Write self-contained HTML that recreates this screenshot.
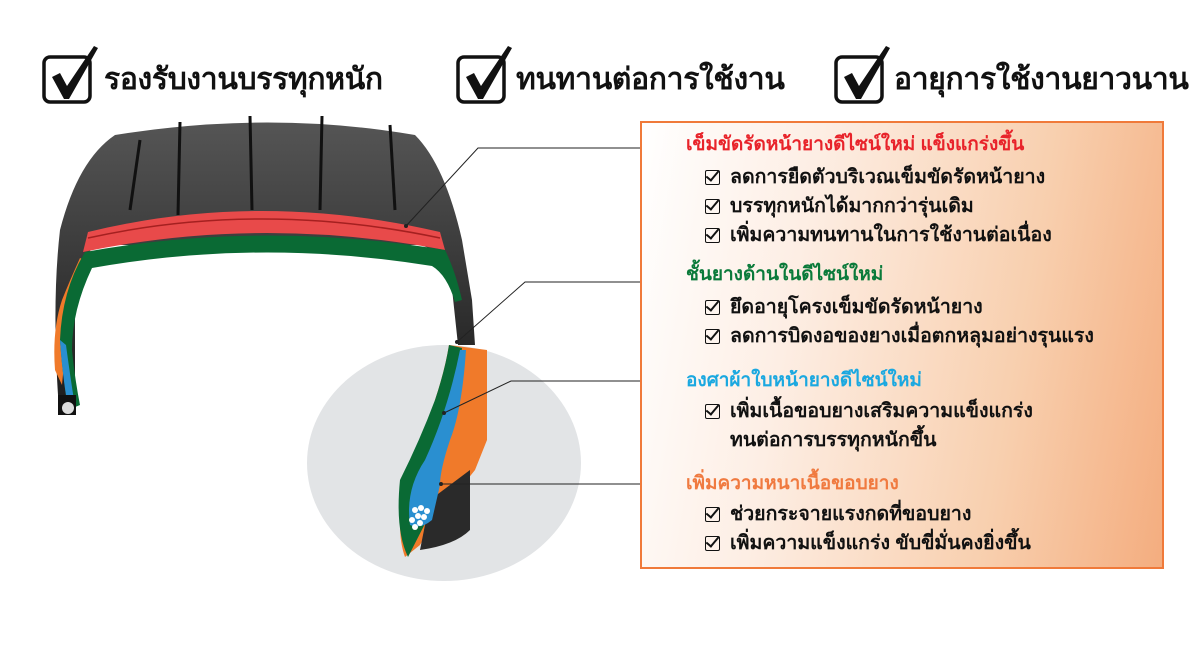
<!DOCTYPE html>
<html><head><meta charset="utf-8"><style>
body{margin:0;width:1200px;height:646px;background:#fff;position:relative;overflow:hidden;font-family:"Liberation Sans","DejaVu Sans",sans-serif;font-weight:bold}
.h{position:absolute;top:60px;font-size:30px;color:#111;white-space:nowrap;line-height:40px;letter-spacing:-0.3px}
#panel{position:absolute;left:640px;top:121px;width:520px;height:444px;border:2px solid #f07a3a;background:linear-gradient(100deg,#fff 0%,#fdeee4 30%,#f8cfae 70%,#f4ad7f 100%)}
.t{position:absolute;white-space:nowrap;font-size:19.5px;line-height:22px;color:#111}
.hd{font-size:19px}
.ck{position:absolute;width:13px;height:13px;border:1.6px solid #111;border-radius:2px}
.ck:after{content:"";position:absolute;left:3px;top:-3px;width:5px;height:11px;border-right:2.4px solid #111;border-bottom:2.4px solid #111;transform:rotate(40deg)}
</style></head><body>
<svg width="1200" height="646" style="position:absolute;left:0;top:0">
<defs><g id="cbx"><rect x="2" y="13" width="46" height="45" rx="6" fill="none" stroke="#111" stroke-width="3.5"/><path d="M10 33 L18 29 L25 42 L52 2 L56 4 L27 55 L22 55 Z" fill="#111"/></g>
<linearGradient id="tr" x1="0" y1="0" x2="0" y2="1"><stop offset="0" stop-color="#555"/><stop offset="1" stop-color="#1c1c1c"/></linearGradient></defs>
<use href="#cbx" x="42" y="44"/><use href="#cbx" x="456" y="44"/><use href="#cbx" x="834" y="44"/>
<ellipse cx="444" cy="463" rx="137" ry="118" fill="#e2e4e6"/>
<!-- tire outer -->
<path d="M115 135 Q270 110 415 135 Q445 165 462 240 L472 300 L475 345 L458 345 L450 270 Q440 250 420 245 L95 245 Q80 260 75 300 L75 410 L58 395 Q52 300 60 230 Q78 160 115 135 Z" fill="url(#tr)"/>
<g stroke="#111" stroke-width="3"><line x1="180" y1="122" x2="178" y2="215"/><line x1="250" y1="116" x2="252" y2="210"/><line x1="322" y1="116" x2="320" y2="210"/><line x1="390" y1="125" x2="395" y2="210"/><line x1="140" y1="140" x2="130" y2="210"/></g>
<!-- red belt -->
<path d="M88 232 Q260 190 440 232 L445 250 Q260 215 83 252 Z" fill="#e84a4a"/>
<path d="M88 238 Q260 200 440 238" stroke="#a52020" stroke-width="1.5" fill="none"/>
<!-- left sidewall -->
<path d="M80 258 Q70 280 62 300 Q52 330 55 370 L62 385 L70 300 Q78 275 88 262 Z" fill="#f07a2a"/>
<path d="M85 252 Q260 220 445 250 Q455 270 462 300 L455 302 Q447 275 432 266 Q260 238 92 268 Q72 310 72 350 Q75 380 80 405 L68 410 Q62 370 60 340 Q62 290 85 252 Z" fill="#0a6a34"/>
<path d="M60 340 Q62 370 66 395 L74 400 Q70 375 66 345 Z" fill="#2a8fd0"/>
<rect x="58" y="395" width="18" height="20" fill="#111"/><circle cx="68" cy="408" r="6" fill="#ddd"/>
<!-- right sidewall in circle -->
<path d="M449 345 L487 350 L487 440 L475 470 L455 495 L440 510 L420 545 L405 557 Q395 530 405 480 Q425 440 435 400 Q445 370 449 345 Z" fill="#f07a2a"/>
<path d="M470 470 L470 530 Q455 545 420 550 L430 500 Z" fill="#2a2a2a"/>
<path d="M449 345 L462 348 Q456 400 440 440 Q425 475 432 510 L408 557 Q395 530 400 480 Q420 440 435 400 Q445 370 449 345 Z" fill="#0a6a34"/>
<path d="M460 350 L466 350 Q462 410 450 440 Q440 470 440 485 L432 520 Q420 530 410 525 Q405 490 425 460 Q448 410 460 350 Z" fill="#2a8fd0"/>
<g fill="#fff"><circle cx="415" cy="510" r="3"/><circle cx="421" cy="508" r="3"/><circle cx="427" cy="511" r="3"/><circle cx="418" cy="516" r="3"/><circle cx="424" cy="517" r="3"/><circle cx="412" cy="520" r="3"/><circle cx="420" cy="523" r="3"/><circle cx="415" cy="527" r="3"/></g>
<!-- connectors -->
<g stroke="#222" stroke-width="1" fill="none"><polyline points="406,226 478,148 677,148"/><polyline points="457,342 525,282 677,282"/><polyline points="444,413 511,381 677,381"/><polyline points="441,484 677,484"/></g>
<g fill="#222"><circle cx="406" cy="226" r="2"/><circle cx="457" cy="342" r="2"/><circle cx="444" cy="413" r="2"/><circle cx="441" cy="484" r="2"/><circle cx="677" cy="148" r="1.5"/><circle cx="677" cy="282" r="1.5"/><circle cx="677" cy="381" r="1.5"/><circle cx="677" cy="484" r="1.5"/></g>
</svg>
<div class="h" style="left:104px">รองรับงานบรรทุกหนัก</div>
<div class="h" style="left:516px">ทนทานต่อการใช้งาน</div>
<div class="h" style="left:894px">อายุการใช้งานยาวนาน</div>
<div id="panel"></div>
<div class="t hd" style="left:686px;top:134px;color:#e8232a">เข็มขัดรัดหน้ายางดีไซน์ใหม่ แข็งแกร่งขึ้น</div>
<div class="ck" style="left:705px;top:170px"></div><div class="t" style="left:730px;top:166px">ลดการยืดตัวบริเวณเข็มขัดรัดหน้ายาง</div>
<div class="ck" style="left:705px;top:199px"></div><div class="t" style="left:730px;top:195px">บรรทุกหนักได้มากกว่ารุ่นเดิม</div>
<div class="ck" style="left:705px;top:228px"></div><div class="t" style="left:730px;top:224px">เพิ่มความทนทานในการใช้งานต่อเนื่อง</div>
<div class="t hd" style="left:686px;top:264px;color:#0a7a3a">ชั้นยางด้านในดีไซน์ใหม่</div>
<div class="ck" style="left:705px;top:300px"></div><div class="t" style="left:730px;top:296px">ยึดอายุโครงเข็มขัดรัดหน้ายาง</div>
<div class="ck" style="left:705px;top:329px"></div><div class="t" style="left:730px;top:325px">ลดการบิดงอของยางเมื่อตกหลุมอย่างรุนแรง</div>
<div class="t hd" style="left:686px;top:370px;color:#1aa8e0">องศาผ้าใบหน้ายางดีไซน์ใหม่</div>
<div class="ck" style="left:705px;top:404px"></div><div class="t" style="left:730px;top:400px">เพิ่มเนื้อขอบยางเสริมความแข็งแกร่ง</div>
<div class="t" style="left:730px;top:429px">ทนต่อการบรรทุกหนักขึ้น</div>
<div class="t hd" style="left:686px;top:473px;color:#f07a40">เพิ่มความหนาเนื้อขอบยาง</div>
<div class="ck" style="left:705px;top:507px"></div><div class="t" style="left:730px;top:503px">ช่วยกระจายแรงกดที่ขอบยาง</div>
<div class="ck" style="left:705px;top:536px"></div><div class="t" style="left:730px;top:532px">เพิ่มความแข็งแกร่ง ขับขี่มั่นคงยิ่งขึ้น</div>
</body></html>
